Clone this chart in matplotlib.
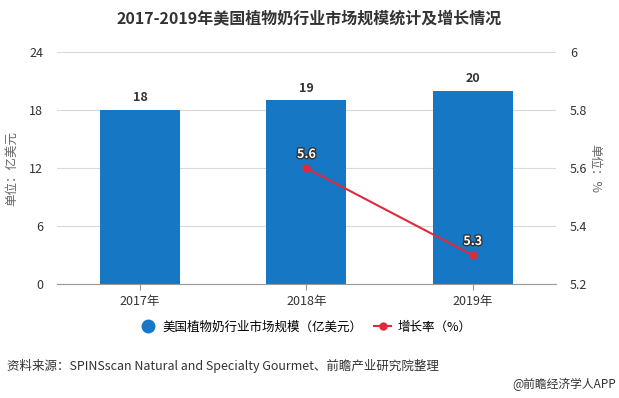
import matplotlib.pyplot as plt
import matplotlib.patheffects as pe
from matplotlib.lines import Line2D
import numpy as np

plt.rcParams['font.family'] = ['Noto Sans CJK SC', 'DejaVu Sans']

# data
years = ['2017年', '2018年', '2019年']
market_size = [18, 19, 20]
growth_years = [1, 2]
growth_rate = [5.6, 5.3]

bar_color = '#1677c4'
line_color = '#e02a3a'
text_color = '#333333'

fig = plt.figure(figsize=(6.19, 3.98), dpi=100)
ax = fig.add_axes([0.092, 0.286, 0.806, 0.583])
x = np.arange(len(years))

ax.bar(x, market_size, width=0.48, color=bar_color, zorder=2)
for xi, v in zip(x, market_size):
    ax.text(xi, v + 0.6, str(v), ha='center', va='bottom', fontsize=9,
            fontweight='bold', color=text_color)

ax.set_xlim(-0.5, 2.5)
ax.set_ylim(0, 24)
ax.set_yticks([0, 6, 12, 18, 24])
ax.set_xticks(x)
ax.set_xticklabels(years)
ax.grid(axis='y', color='#d9d9d9', linewidth=0.8, zorder=0)
for s in ['top', 'right', 'left']:
    ax.spines[s].set_visible(False)
ax.spines['bottom'].set_color('#999999')
ax.tick_params(axis='y', length=0, labelsize=9, colors=text_color, pad=10)
ax.tick_params(axis='x', length=4, labelsize=9, colors=text_color, color='#999999')
ax.set_ylabel('单位：亿美元', fontsize=9, color='#666666', labelpad=8)

ax2 = ax.twinx()
ax2.set_ylim(5.2, 6.0)
ax2.set_yticks([5.2, 5.4, 5.6, 5.8, 6.0])
ax2.set_yticklabels(['5.2', '5.4', '5.6', '5.8', '6'])
for s in ['top', 'right', 'left', 'bottom']:
    ax2.spines[s].set_visible(False)
ax2.tick_params(axis='y', length=0, labelsize=9, colors=text_color, pad=10)
ax2.plot(growth_years, growth_rate, color=line_color, linewidth=1.5,
         marker='o', markersize=5, zorder=3)
for xi, v in zip(growth_years, growth_rate):
    ax2.text(xi, v + 0.025, f'{v}', ha='center', va='bottom', fontsize=9,
             fontweight='bold', color='white',
             path_effects=[pe.withStroke(linewidth=2, foreground='#333333')])
ax2.set_ylabel('单位：%', fontsize=9, color='#666666', rotation=270, labelpad=10)

fig.text(0.5, 0.955, '2017-2019年美国植物奶行业市场规模统计及增长情况', ha='center',
         va='center', fontsize=11.5, fontweight='bold', color=text_color)

handles = [Line2D([0], [0], marker='o', color='none', markerfacecolor=bar_color,
                  markeredgecolor=bar_color, markersize=9),
           Line2D([0], [0], color=line_color, marker='o', markersize=5, linewidth=1.5)]
fig.legend(handles, ['美国植物奶行业市场规模（亿美元）', '增长率（%）'], loc='center',
           bbox_to_anchor=(0.493, 0.178), ncol=2, frameon=False, fontsize=9,
           handlelength=1.4, columnspacing=0.9, handletextpad=0.5)

fig.text(0.012, 0.08, '资料来源：SPINSscan Natural and Specialty Gourmet、前瞻产业研究院整理',
         fontsize=9, color=text_color, va='center')
fig.text(0.995, 0.035, '@前瞻经济学人APP', fontsize=8.5, color=text_color,
         ha='right', va='center')

fig.savefig('out.png', dpi=100)
